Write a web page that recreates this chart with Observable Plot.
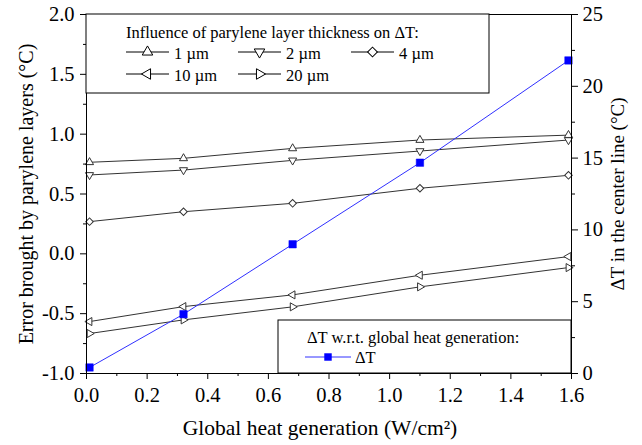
<!DOCTYPE html>
<html><head><meta charset="utf-8">
<script src="https://cdn.jsdelivr.net/npm/d3@7"></script>
<script src="https://cdn.jsdelivr.net/npm/@observablehq/plot@0.6"></script>
<style>
body{margin:0;background:#fff}
#chart svg, #chart svg text{font-family:'Liberation Serif','Times New Roman',serif}
</style>
</head><body><div id="chart"></div>
<script>
// ---- data ----
const heat = [0.01, 0.32, 0.68, 1.10, 1.59];
const thicknessLabels = ["1 µm", "2 µm", "4 µm", "10 µm", "20 µm"];
const err1um  = [0.765, 0.798, 0.881, 0.951, 0.992];
const err2um  = [0.659, 0.700, 0.781, 0.859, 0.951];
const err4um  = [0.269, 0.352, 0.422, 0.548, 0.656];
const err10um = [-0.566, -0.441, -0.343, -0.179, -0.023];
const err20um = [-0.666, -0.552, -0.443, -0.276, -0.115];
const deltaT  = [0.42, 4.13, 9.00, 14.68, 21.80];
const xTicks = [0.0, 0.2, 0.4, 0.6, 0.8, 1.0, 1.2, 1.4, 1.6];
const xMinor = [0.1, 0.3, 0.5, 0.7, 0.9, 1.1, 1.3, 1.5];
const leftTicks = [-1.0, -0.5, 0.0, 0.5, 1.0, 1.5, 2.0];
const leftMinor = [-0.75, -0.25, 0.25, 0.75, 1.25, 1.75];
const rightTicks = [0, 5, 10, 15, 20, 25];
const rightMinor = [2.5, 7.5, 12.5, 17.5, 22.5];
const legendTitle1 = "Influence of parylene layer thickness on ΔT:";
const legendTitle2 = "ΔT w.r.t. global heat generation:";
const xTitle = "Global heat generation (W/cm²)";
const yTitle = "Error brought by parylene layers (°C)";
const y2Title = "ΔT in the center line (°C)";

// ---- build tables ----
const seriesList = [err1um, err2um, err4um, err10um, err20um];
const symbolSpec = [
  {symbol: "triangle", rotate: 0},
  {symbol: "triangle", rotate: 180},
  {symbol: "square", rotate: 45},
  {symbol: "triangle", rotate: -90},
  {symbol: "triangle", rotate: 90}
];
const rows = [];
seriesList.forEach((vals, i) => vals.forEach((v, j) =>
  rows.push({series: thicknessLabels[i], idx: i, x: heat[j], y: v, ...symbolSpec[i]})));
const toLeft = t => -1 + t * 3 / 25;
const dtRows = deltaT.map((t, j) => ({x: heat[j], t, y: toLeft(t)}));

const FF = "'Liberation Serif', 'Times New Roman', serif";
const lineColor = "#333";
const blue = "#0000ff";
const fs = 20.5;
const rTri = 3.9, rDia = 3.9;

const plot = Plot.plot({
  width: 642, height: 445,
  marginLeft: 86, marginRight: 71, marginTop: 14, marginBottom: 72,
  style: {fontFamily: FF, fontSize: fs + "px", color: "#000", background: "#fff"},
  x: {domain: [0, 1.6], label: null},
  y: {domain: [-1, 2], label: null},
  marks: [
    Plot.line(rows, {x: "x", y: "y", z: "series", stroke: lineColor, strokeWidth: 1}),
    Plot.dot(rows, {x: "x", y: "y", symbol: "symbol", rotate: "rotate",
      r: d => d.symbol === "square" ? rDia : rTri, fill: "#fff", stroke: lineColor, strokeWidth: 1}),
    Plot.line(dtRows, {x: "x", y: "y", stroke: "#3030ff", strokeWidth: 1}),
    Plot.dot(dtRows, {x: "x", y: "y", symbol: "square", r: 4.2, fill: blue, stroke: blue, strokeWidth: 0.5}),
    Plot.frame({stroke: "#000", strokeWidth: 1}),
    Plot.axisX({ticks: xTicks, tickSize: 6, tickPadding: 8, tickFormat: d => d.toFixed(1), fontSize: fs, fontFamily: FF, label: null}),
    Plot.axisX({ticks: xMinor, tickSize: 3, tickFormat: () => "", label: null}),
    Plot.axisY({anchor: "left", ticks: leftTicks, tickSize: 6, tickPadding: 6, tickFormat: d => d.toFixed(1), fontSize: fs, fontFamily: FF, label: null}),
    Plot.axisY({anchor: "left", ticks: leftMinor, tickSize: 3, tickFormat: () => "", label: null}),
    Plot.axisY({anchor: "right", ticks: rightTicks.map(toLeft), tickSize: 6, tickPadding: 5,
      tickFormat: d => String(Math.round((d + 1) * 25 / 3)), fontSize: fs, fontFamily: FF, label: null}),
    Plot.axisY({anchor: "right", ticks: rightMinor.map(toLeft), tickSize: 3, tickFormat: () => "", label: null}),
    Plot.text([xTitle], {frameAnchor: "bottom", dy: 61, dx: -9, fontSize: 21.5, fontFamily: FF, textAnchor: "middle"}),
    Plot.text([yTitle], {frameAnchor: "left", dx: -60, rotate: -90, fontSize: 20, fontFamily: FF, textAnchor: "middle"}),
    Plot.text([y2Title], {frameAnchor: "right", dx: 46, rotate: -90, fontSize: 19, fontFamily: FF, textAnchor: "middle"})
  ]
});
document.getElementById("chart").appendChild(plot);

// ---- legends (overlay in the same SVG) ----
const svg = d3.select(plot);
const sym = {triangle: d3.symbolTriangle, square: d3.symbolSquare};
function legendGroup() {
  return svg.append("g").attr("font-size", 16.5).style("font-family", FF).attr("text-anchor", "start");
}
// top legend
const g1 = legendGroup();
g1.append("rect").attr("x", 86).attr("y", 14).attr("width", 403).attr("height", 79)
  .attr("fill", "#fff").attr("stroke", "#000").attr("stroke-width", 1);
g1.append("text").attr("x", 126).attr("y", 38).attr("text-anchor", "start").text(legendTitle1);
const slots = [[126, 52], [238, 52], [351, 52], [126, 74], [238, 74]];
thicknessLabels.forEach((lab, i) => {
  const [x0, y0] = slots[i];
  const e = g1.append("g").attr("transform", `translate(${x0},${y0})`);
  e.append("line").attr("x1", 0).attr("x2", 43).attr("y1", 0).attr("y2", 0).attr("stroke", "#000");
  const s = symbolSpec[i];
  const rr = s.symbol === "square" ? rDia : rTri;
  e.append("path").attr("d", d3.symbol(sym[s.symbol], Math.PI * rr * rr)())
    .attr("transform", `translate(21.5,0) rotate(${s.rotate})`)
    .attr("fill", "#fff").attr("stroke", "#000");
  e.append("text").attr("x", 48).attr("y", 6.5).attr("text-anchor", "start").text(lab);
});
// bottom legend
const g2 = legendGroup();
g2.append("rect").attr("x", 278).attr("y", 320).attr("width", 293).attr("height", 53)
  .attr("fill", "#fff").attr("stroke", "#000").attr("stroke-width", 1);
g2.append("text").attr("x", 307).attr("y", 343).attr("text-anchor", "start").text(legendTitle2);
const e2 = g2.append("g").attr("transform", "translate(305,357)");
e2.append("line").attr("x1", 0).attr("x2", 46).attr("stroke", "#3030ff");
e2.append("path").attr("d", d3.symbol(d3.symbolSquare, Math.PI * 4.2 * 4.2)()).attr("transform", "translate(23,0)").attr("fill", blue);
e2.append("text").attr("x", 50).attr("y", 6).attr("text-anchor", "start").text("ΔT");
</script>
</body></html>
